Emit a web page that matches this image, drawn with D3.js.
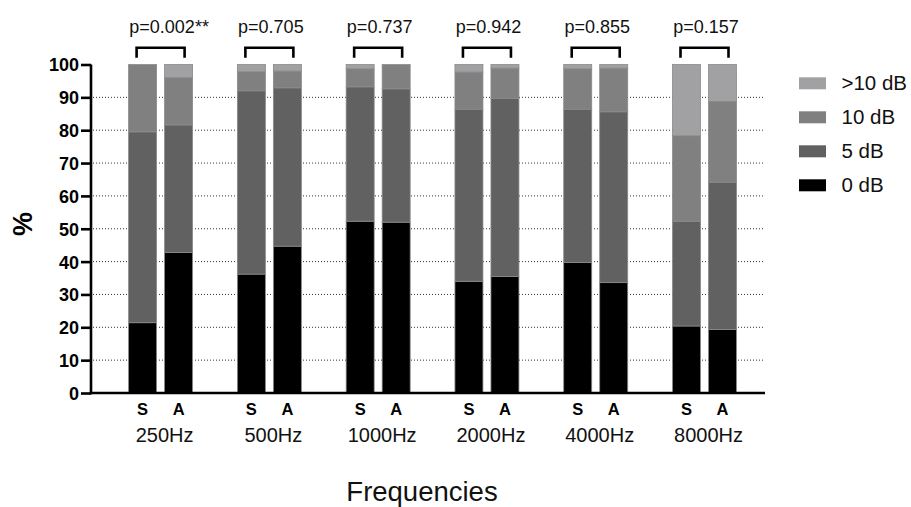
<!DOCTYPE html>
<html>
<head>
<meta charset="utf-8">
<script src="https://cdn.jsdelivr.net/npm/d3@7"></script>
<style>
  html, body { margin: 0; padding: 0; background: #fff; }
  svg { display: block; font-family: "Liberation Sans", Arial, sans-serif; }
</style>
</head>
<body>
<svg id="chart" width="911" height="507"></svg>
<script>
// Hearing-threshold shift categories by frequency, S vs A groups (percent of ears)
const frequencies = ["250Hz", "500Hz", "1000Hz", "2000Hz", "4000Hz", "8000Hz"];
const groups = ["S", "A"];
const levels = ["0 dB", "5 dB", "10 dB", ">10 dB"];
const pValues = ["p=0.002", "p=0.705", "p=0.737", "p=0.942", "p=0.855", "p=0.157"];
const pStars = ["**", "", "", "", "", ""];

// one row per frequency: [0 dB, 5 dB, 10 dB, >10 dB]
const seriesS = [
  [21.4, 58.1, 20.5, 0.0],
  [36.2, 55.8, 5.8, 2.2],
  [52.3, 40.9, 5.5, 1.3],
  [34.0, 52.4, 11.3, 2.3],
  [39.7, 46.7, 12.3, 1.3],
  [20.4, 31.9, 26.0, 21.7]
];
const seriesA = [
  [42.8, 38.8, 14.4, 4.0],
  [44.7, 48.2, 5.1, 2.0],
  [52.0, 40.6, 7.4, 0.0],
  [35.5, 54.2, 9.2, 1.1],
  [33.6, 52.0, 13.3, 1.1],
  [19.3, 44.9, 24.5, 11.3]
];
const yTicks = [0, 10, 20, 30, 40, 50, 60, 70, 80, 90, 100];

const colors = d3.scaleOrdinal()
  .domain(levels)
  .range(["#000000", "#616161", "#808080", "#a1a1a4"]);

const svg = d3.select("#chart");

const y = d3.scaleLinear().domain([0, 100]).range([393, 64.5]);
const xGroup = d3.scalePoint().domain(frequencies).range([160.6, 704.5]);
const xSub = d3.scaleBand().domain(groups).range([-32, 32]).paddingInner(0.2222);

const axisLeft = 91, axisRight = 765;

// dotted horizontal grid
svg.append("g")
  .selectAll("line")
  .data(yTicks.filter(t => t > 0 && t < 100))
  .join("line")
  .attr("x1", axisLeft + 2).attr("x2", 763)
  .attr("y1", d => y(d)).attr("y2", d => y(d))
  .attr("stroke", "#333")
  .attr("stroke-width", 1)
  .attr("stroke-dasharray", "1,2");

// stacked bars
const rows = [];
frequencies.forEach((f, i) => {
  [["S", seriesS[i]], ["A", seriesA[i]]].forEach(([g, vals]) => {
    let acc = 0;
    vals.forEach((v, k) => {
      rows.push({ f, g, level: levels[k], y0: acc, y1: acc + v });
      acc += v;
    });
  });
});

svg.append("g")
  .selectAll("rect")
  .data(rows.filter(d => d.y1 - d.y0 > 0))
  .join("rect")
  .attr("x", d => xGroup(d.f) + xSub(d.g))
  .attr("width", xSub.bandwidth())
  .attr("y", d => y(d.y1))
  .attr("height", d => y(d.y0) - y(d.y1))
  .attr("fill", d => colors(d.level))
  .attr("stroke", "#8a8a8a")
  .attr("stroke-width", 0.8);

// y axis
const yAxis = d3.axisLeft(y).tickValues(yTicks).tickSize(10).tickPadding(2);
const gy = svg.append("g").attr("transform", `translate(${axisLeft},0)`).call(yAxis);
gy.select(".domain").attr("stroke", "#000").attr("stroke-width", 2.6)
  .attr("d", `M0,${y(100)}V${y(0) + 1.3}`);
gy.selectAll(".tick line").attr("stroke", "#000").attr("stroke-width", 2.6);
gy.selectAll(".tick text")
  .attr("fill", "#000")
  .style("font-size", "18px")
  .style("font-weight", "bold")
  .style("font-family", "'Liberation Sans', Arial, sans-serif")
  .attr("dy", "0.36em");

// x axis baseline
svg.append("line")
  .attr("x1", axisLeft - 1.3).attr("x2", axisRight)
  .attr("y1", y(0)).attr("y2", y(0))
  .attr("stroke", "#000").attr("stroke-width", 2.6);

// S / A labels
svg.append("g")
  .selectAll("text")
  .data(d3.cross(frequencies, groups))
  .join("text")
  .attr("x", d => xGroup(d[0]) + xSub(d[1]) + xSub.bandwidth() / 2)
  .attr("y", 415)
  .attr("text-anchor", "middle")
  .style("font-size", "16.5px")
  .style("font-weight", "bold")
  .text(d => d[1]);

// frequency labels
svg.append("g")
  .selectAll("text")
  .data(frequencies)
  .join("text")
  .attr("x", d => xGroup(d) + 4)
  .attr("y", 442)
  .attr("text-anchor", "middle")
  .style("font-size", "20px")
  .attr("fill", "#111")
  .text(d => d);

// axis titles
svg.append("text")
  .attr("x", 422).attr("y", 500.5)
  .attr("text-anchor", "middle")
  .style("font-size", "27.5px")
  .attr("fill", "#111")
  .text("Frequencies");

svg.append("text")
  .attr("transform", "translate(32,224) rotate(-90)")
  .attr("text-anchor", "middle")
  .style("font-size", "27px")
  .style("font-weight", "bold")
  .text("%");

// significance brackets and p-values
const brackets = svg.append("g");
frequencies.forEach((f, i) => {
  const cx = xGroup(f);
  const l = cx + xSub("S") + xSub.bandwidth() / 2 - 6;
  const r = cx + xSub("A") + xSub.bandwidth() / 2 + 6;
  brackets.append("path")
    .attr("d", `M${l},57.7V47.7H${r}V57.7`)
    .attr("fill", "none")
    .attr("stroke", "#000")
    .attr("stroke-width", 2.6);
  const t = brackets.append("text")
    .attr("y", 33)
    .style("font-size", "18px")
    .attr("fill", "#111")
    .text(pValues[i]);
  const w = t.node().getComputedTextLength();
  t.attr("x", cx - w / 2 + 1.5);
  if (pStars[i]) {
    t.append("tspan").text(pStars[i]);
  }
});

// legend (top entry first)
const legend = svg.append("g");
const legendItems = levels.slice().reverse();
legendItems.forEach((lv, i) => {
  const yy = 77.3 + i * 34;
  legend.append("rect")
    .attr("x", 799).attr("y", yy)
    .attr("width", 27).attr("height", 12)
    .attr("fill", colors(lv));
  legend.append("text")
    .attr("x", 841.5).attr("y", yy + 12.8)
    .style("font-size", "20.5px")
    .attr("fill", "#111")
    .text(lv);
});
</script>
</body>
</html>
